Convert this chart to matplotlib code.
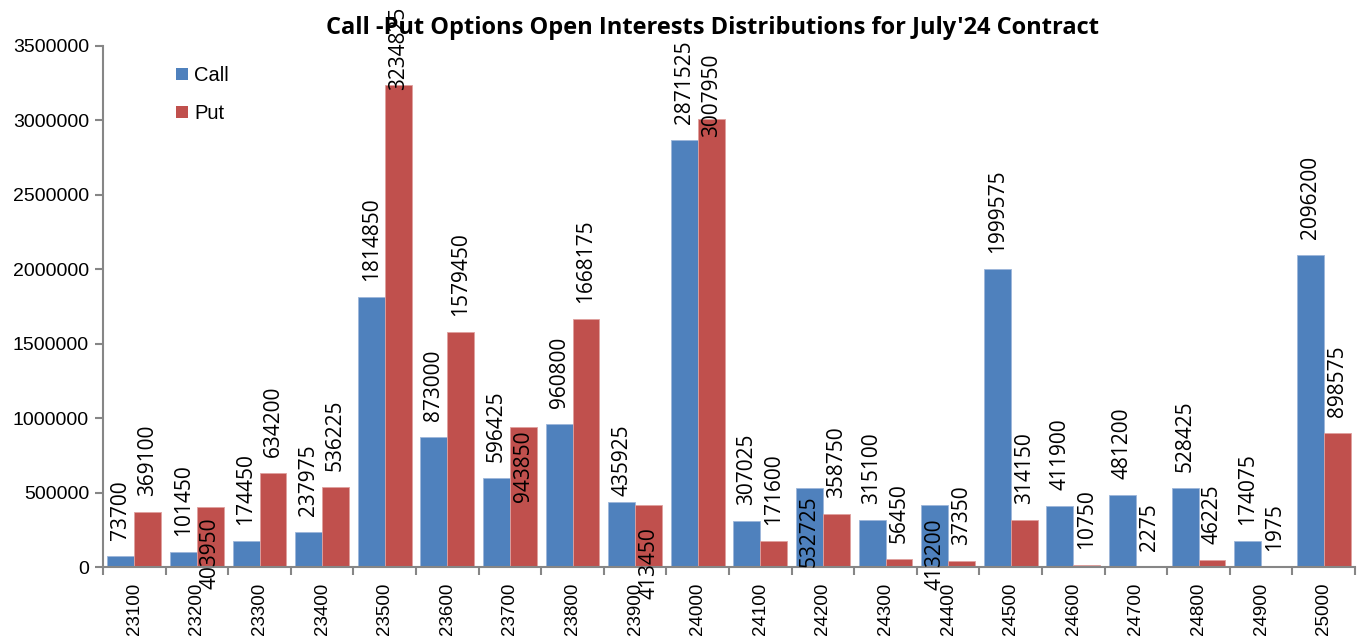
import matplotlib
matplotlib.use("Agg")
import matplotlib.pyplot as plt
from matplotlib.patches import Patch
import numpy as np

strikes = [23100, 23200, 23300, 23400, 23500, 23600, 23700, 23800, 23900, 24000,
           24100, 24200, 24300, 24400, 24500, 24600, 24700, 24800, 24900, 25000]
call_oi = [73700, 101450, 174450, 237975, 1814850, 873000, 596425, 960800, 435925, 2871525,
           307025, 532725, 315100, 413200, 1999575, 411900, 481200, 528425, 174075, 2096200]
put_oi = [369100, 403950, 634200, 536225, 3234825, 1579450, 943850, 1668175, 413450, 3007950,
          171600, 358750, 56450, 37350, 314150, 10750, 2275, 46225, 1975, 898575]

title = "Call -Put Options Open Interests Distributions for July'24 Contract"

CALL_COLOR = "#4F81BD"
PUT_COLOR = "#C0504D"
AXIS_GREY = "#868686"

# where each value label sits: (which end of the label is anchored, pixels above bar top)
DEFAULT_SHIFT = ("bottom", 16)
LABEL_SHIFT = {
    (23200, "put"): ("top", -11),
    (23500, "put"): ("bottom", -5),
    (23700, "put"): ("top", -4),
    (23900, "call"): ("bottom", 6),
    (23900, "put"): ("top", -22),
    (24000, "put"): ("bottom", -18),
    (24200, "call"): ("top", -8),
    (24400, "call"): ("top", -13),
}

W, H = 1364, 637
fig = plt.figure(figsize=(W / 100, H / 100), dpi=100)
ax = fig.add_axes([103 / W, (H - 567) / H, (1355 - 103) / W, (567 - 46) / H])

x = np.arange(len(strikes))
bw = 0.43
ax.bar(x - bw / 2, call_oi, bw, color=CALL_COLOR, edgecolor="#9DB6DA", linewidth=0.6, label="Call")
ax.bar(x + bw / 2, put_oi, bw, color=PUT_COLOR, edgecolor="#E0A09E", linewidth=0.6, label="Put")

label_font = "Open Sans"
for series, vals, dx in (("call", call_oi, -bw / 2), ("put", put_oi, bw / 2)):
    for i, v in enumerate(vals):
        anchor, shift = LABEL_SHIFT.get((strikes[i], series), DEFAULT_SHIFT)
        ax.annotate(str(v), (x[i] + dx, v), xytext=(0, shift * 0.72), textcoords="offset points",
                    rotation=90, ha="center", va=anchor,
                    fontsize=15, family=label_font, color="black", annotation_clip=False)

ax.set_xlim(-0.5, len(strikes) - 0.5)
ax.set_ylim(0, 3500000)
ax.set_yticks(np.arange(0, 3500001, 500000))
ax.set_yticklabels([str(v) for v in range(0, 3500001, 500000)], family="Liberation Sans", fontsize=14)
ax.set_xticks(x)
ax.set_xticklabels([str(s) for s in strikes], rotation=90, family="Liberation Sans", fontsize=13.5)
ax.set_xticks(np.arange(-0.5, len(strikes)), minor=True)
ax.tick_params(axis="x", which="major", length=0, pad=11)
ax.tick_params(axis="x", which="minor", length=6, width=1.5, color=AXIS_GREY, direction="out")
ax.tick_params(axis="y", length=6, width=1.5, color=AXIS_GREY, direction="out", pad=4)

for s in ("top", "right"):
    ax.spines[s].set_visible(False)
for s in ("left", "bottom"):
    ax.spines[s].set_color(AXIS_GREY)
    ax.spines[s].set_linewidth(1.5)

fig.text(712 / W, 1 - 28 / H, title, ha="center", va="center", fontsize=17, fontweight="bold",
         family=label_font)

handles = [Patch(facecolor=CALL_COLOR), Patch(facecolor=PUT_COLOR)]
fig.legend(handles, ["Call", "Put"], loc="upper left", bbox_to_anchor=(166 / W, 1 - 56 / H),
           frameon=False, prop={"family": "Liberation Sans", "size": 14.5},
           handlelength=0.6, handleheight=0.6, handletextpad=0.3, labelspacing=0.95, borderpad=0)

fig.savefig("out.png", dpi=100)
